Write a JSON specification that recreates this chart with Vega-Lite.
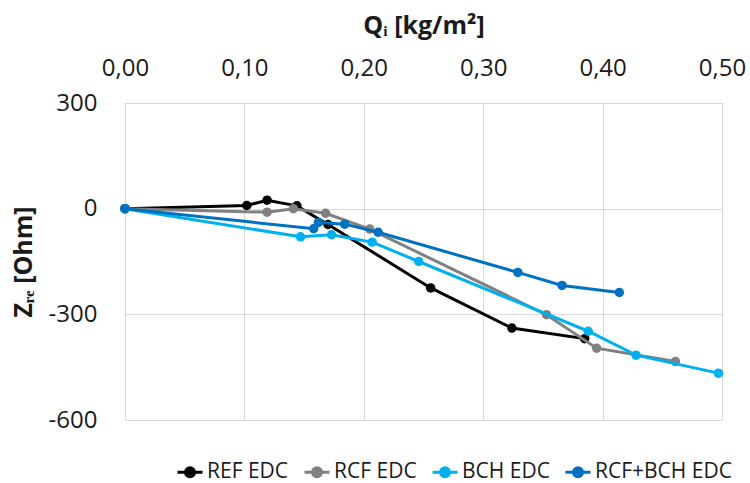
{
  "$schema": "https://vega.github.io/schema/vega-lite/v6.json",
  "width": 597,
  "height": 317,
  "autosize": {"type": "none"},
  "padding": {"left": 125, "top": 103, "right": 28, "bottom": 63},
  "background": "white",
  "config": {
    "view": {"stroke": "#d9d9d9", "strokeWidth": 1},
    "font": "Open Sans",
    "axis": {"labelFont": "Open Sans", "titleFont": "Open Sans", "gridColor": "#d9d9d9", "gridWidth": 1, "domain": false, "ticks": false, "tickSize": 0, "labelColor": "#1a1a1a", "titleColor": "#1a1a1a"}
  },
  "data": {
    "values": [
      {"s": "REF EDC", "i": 0, "q": 0.0, "z": 0},
      {"s": "REF EDC", "i": 1, "q": 0.102, "z": 9},
      {"s": "REF EDC", "i": 2, "q": 0.119, "z": 24},
      {"s": "REF EDC", "i": 3, "q": 0.144, "z": 8},
      {"s": "REF EDC", "i": 4, "q": 0.170, "z": -45},
      {"s": "REF EDC", "i": 5, "q": 0.256, "z": -225},
      {"s": "REF EDC", "i": 6, "q": 0.324, "z": -339},
      {"s": "REF EDC", "i": 7, "q": 0.385, "z": -369},
      {"s": "RCF EDC", "i": 0, "q": 0.0, "z": 0},
      {"s": "RCF EDC", "i": 1, "q": 0.119, "z": -10},
      {"s": "RCF EDC", "i": 2, "q": 0.141, "z": 0},
      {"s": "RCF EDC", "i": 3, "q": 0.168, "z": -13},
      {"s": "RCF EDC", "i": 4, "q": 0.205, "z": -58},
      {"s": "RCF EDC", "i": 5, "q": 0.353, "z": -301},
      {"s": "RCF EDC", "i": 6, "q": 0.395, "z": -396},
      {"s": "RCF EDC", "i": 7, "q": 0.461, "z": -434},
      {"s": "BCH EDC", "i": 0, "q": 0.0, "z": 0},
      {"s": "BCH EDC", "i": 1, "q": 0.147, "z": -80},
      {"s": "BCH EDC", "i": 2, "q": 0.173, "z": -74},
      {"s": "BCH EDC", "i": 3, "q": 0.207, "z": -95},
      {"s": "BCH EDC", "i": 4, "q": 0.246, "z": -150},
      {"s": "BCH EDC", "i": 5, "q": 0.388, "z": -348},
      {"s": "BCH EDC", "i": 6, "q": 0.428, "z": -416},
      {"s": "BCH EDC", "i": 7, "q": 0.497, "z": -467},
      {"s": "RCF+BCH EDC", "i": 0, "q": 0.0, "z": 0},
      {"s": "RCF+BCH EDC", "i": 1, "q": 0.158, "z": -57},
      {"s": "RCF+BCH EDC", "i": 2, "q": 0.162, "z": -39},
      {"s": "RCF+BCH EDC", "i": 3, "q": 0.184, "z": -44},
      {"s": "RCF+BCH EDC", "i": 4, "q": 0.212, "z": -67},
      {"s": "RCF+BCH EDC", "i": 5, "q": 0.329, "z": -181},
      {"s": "RCF+BCH EDC", "i": 6, "q": 0.366, "z": -218},
      {"s": "RCF+BCH EDC", "i": 7, "q": 0.414, "z": -238}
    ]
  },
  "encoding": {
    "x": {
      "field": "q", "type": "quantitative",
      "scale": {"domain": [0, 0.5], "nice": false, "zero": false},
      "axis": {
        "orient": "top", "values": [0, 0.1, 0.2, 0.3, 0.4, 0.5],
        "labelExpr": "replace(format(datum.value, '.2f'), '.', ',')",
        "labelFontSize": 24, "labelBaseline": "alphabetic", "labelPadding": 28,
        "labelFlush": false, "labelOverlap": false,
        "title": "Qᵢ [kg/m²]", "titleFontSize": 25, "titleFontWeight": "bold",
        "titleBaseline": "alphabetic", "titleY": -70
      }
    },
    "y": {
      "field": "z", "type": "quantitative",
      "scale": {"domain": [-600, 300], "nice": false, "zero": false},
      "axis": {
        "values": [-600, -300, 0, 300],
        "labelExpr": "'' + datum.value",
        "labelFontSize": 24, "labelPadding": 28, "labelFlush": false, "labelOverlap": false,
        "title": "Zᵣₑ [Ohm]", "titleFontSize": 25, "titleFontWeight": "bold",
        "titleBaseline": "alphabetic", "titleX": -94
      }
    },
    "order": {"field": "i", "type": "quantitative"},
    "color": {
      "field": "s", "type": "nominal",
      "scale": {"domain": ["REF EDC", "RCF EDC", "BCH EDC", "RCF+BCH EDC"], "range": ["#000000", "#808080", "#00B0F0", "#0070C0"]},
      "legend": {
        "title": null, "orient": "none", "direction": "horizontal", "columns": 4,
        "legendX": 51, "legendY": 355,
        "labelFont": "Open Sans", "labelFontSize": 21, "labelColor": "#1a1a1a", "labelOffset": 3,
        "columnPadding": 9, "labelLimit": 300,
        "symbolType": "M-1,0L1,0M0.36,0A0.36,0.36,0,1,1,-0.36,0A0.36,0.36,0,1,1,0.36,0Z",
        "symbolSize": 625, "symbolStrokeWidth": 3,
        "encode": {"symbols": {"update": {"fill": {"scale": "color", "field": "value"}, "stroke": {"scale": "color", "field": "value"}, "opacity": {"value": 1}}}}
      }
    }
  },
  "layer": [
    {"transform": [{"filter": "datum.s === 'REF EDC'"}], "mark": {"type": "line", "strokeWidth": 3, "point": {"filled": true, "size": 90, "opacity": 1}}},
    {"transform": [{"filter": "datum.s === 'RCF EDC'"}], "mark": {"type": "line", "strokeWidth": 3, "point": {"filled": true, "size": 90, "opacity": 1}}},
    {"transform": [{"filter": "datum.s === 'BCH EDC'"}], "mark": {"type": "line", "strokeWidth": 3, "point": {"filled": true, "size": 90, "opacity": 1}}},
    {"transform": [{"filter": "datum.s === 'RCF+BCH EDC'"}], "mark": {"type": "line", "strokeWidth": 3, "point": {"filled": true, "size": 90, "opacity": 1}}}
  ]
}
